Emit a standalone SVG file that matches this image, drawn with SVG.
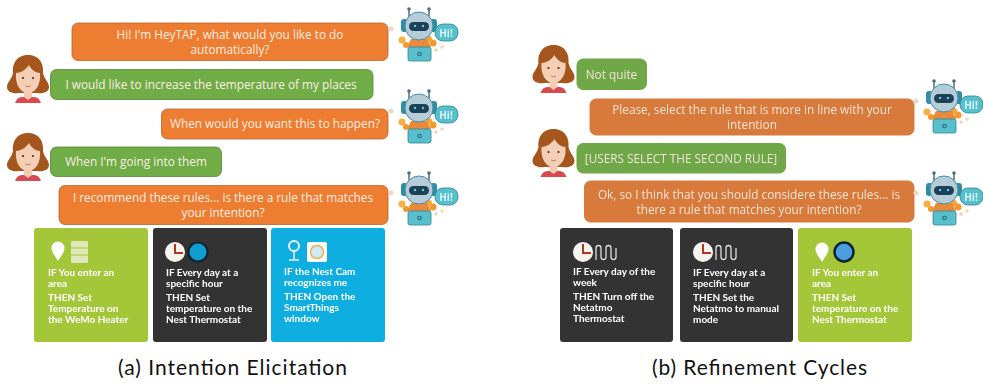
<svg xmlns="http://www.w3.org/2000/svg" width="983" height="385" viewBox="0 0 983 385">
<style>
text{font-family:"Open Sans","Noto Sans","Liberation Sans",sans-serif}
.o{fill:#ed7d31;stroke:#b9642a;stroke-width:.8}
.g{fill:#70ad47;stroke:#558636;stroke-width:.8}
.o2{fill:#d97a3c;stroke:#d97a3c}
.g2{fill:#70a84a;stroke:#70a84a}
.t{fill:#fbeee3;font-size:11.8px;text-anchor:middle}
.t2{fill:#f0e4d4;font-size:11.8px;text-anchor:middle}
.c{fill:#fff;font-size:10px;font-weight:700;font-family:"Lato","Open Sans",sans-serif}
.lime{fill:#a4c639}.dark{fill:#333}.blue{fill:#0eaee0}
.cap{fill:#111;font-size:21px;text-anchor:middle;font-family:"Lato","Noto Sans",sans-serif}
.soft{filter:url(#b)}
</style>
<defs>
<filter id="b" x="-10%" y="-10%" width="120%" height="120%"><feGaussianBlur stdDeviation=".5"/></filter>
<filter id="b2" x="-10%" y="-10%" width="120%" height="120%"><feGaussianBlur stdDeviation=".55"/></filter>
<g id="robot" filter="url(#b2)">
<circle cx="-28" cy="-2" r="2.500" fill="#ecd9c8"/>
<circle cx="17" cy="19" r="1.800" fill="#f2d5b0"/><circle cx="23" cy="16" r="1.800" fill="#f2d9b8"/>
<circle cx="-17" cy="9" r="3.500" fill="#f5b041"/><circle cx="-13" cy="14" r="3" fill="#f39a2e"/><circle cx="14" cy="12" r="3.500" fill="#f39a2e"/><circle cx="10" cy="8" r="3" fill="#f5a63a"/>
<path d="M-10-21V-14M10-21V-14" stroke="#4d6f80" stroke-width="1.500"/><circle cx="-10" cy="-22" r="1.800" fill="#4d6f80"/><circle cx="10" cy="-22" r="1.800" fill="#4d6f80"/>
<path d="M-8 8h16l4 8h-24z" fill="#e98a3a"/>
<rect x="-18" y="-12" width="7" height="13" rx="3" fill="#2f8ea6"/><rect x="11" y="-12" width="7" height="13" rx="3" fill="#2f8ea6"/>
<circle cx="0" cy="-5" r="14" fill="#b5cdd8" stroke="#4a8ba0"/>
<rect x="-10" y="-9" width="20" height="9" rx="4.500" fill="#1f3f55"/>
<circle cx="-4" cy="-5" r="1.200" fill="#5fd0e0"/><circle cx="4" cy="-5" r="1.200" fill="#5fd0e0"/>
<rect x="-11" y="16" width="23" height="14" rx="2" fill="#58c0cc" stroke="#2d8796" stroke-width=".8"/><circle cx="0.500" cy="23" r="1.800" fill="none" stroke="#245b68"/>
<rect x="16" y="-7" width="23" height="17" rx="8" fill="#58c0cc" stroke="#2d8796" stroke-width=".8"/>
<text x="27" y="5.500" text-anchor="middle" font-size="10" fill="#d9f5f5" font-weight="700">Hi!</text>
</g>
<g id="woman" filter="url(#b2)">
<path d="M-13 24q2-6 7-6h12q5 0 7 6z" fill="#d9484f"/>
<path d="M0-24C-12-24-16-14-15-6-16 0-21 3-21 8-21 13-15 15-9 14H9C15 15 21 13 21 8 21 3 16 0 15-6 16-14 12-24 0-24z" fill="#a4561b"/>
<path d="M-4 9h8v9l-4 3-4-3z" fill="#f3cbb0"/>
<path d="M-12-6c4 0 10-3 13-8 2 4 6 8 11 8 1 11-4 20-12 20s-13-9-12-20z" fill="#f4cfb6"/>
<circle cx="-5" cy="-1" r="1.100" fill="#4a2c14"/><circle cx="5" cy="-1" r="1.100" fill="#4a2c14"/>
<path d="M-2.500 7q2.500 1.500 5 0" stroke="#b06a50" fill="none" stroke-width=".8"/>
</g>
<g id="pin"><path d="M0 10C-3 5-6.500 1-6.500-3a6.500 6.500 0 0 1 13 0C6.500 1 3 5 0 10z" fill="#fff"/></g>
<g id="clock"><circle r="10" fill="#f7f3ee"/><path d="M-1-8h2v8h7v2h-9z" fill="#b5341f"/></g>
<g id="wave"><path d="M0 8V-4a2.500 2.500 0 0 1 5 0V5a2.500 2.500 0 0 0 5 0V-4a2.500 2.500 0 0 1 5 0V5a2.500 2.500 0 0 0 5 0V-4" fill="none" stroke="#ddd" stroke-width="1.300"/></g>
</defs>

<g id="connectors"/>

<g id="b1"><rect class="o" x="72" y="23" width="316" height="37.500" rx="6"/><text class="t" x="230" y="39">Hi! I'm HeyTAP, what would you like to do</text><text class="t" x="230" y="54">automatically?</text></g>
<g id="b2n"><rect class="g" x="50.500" y="69.500" width="322.500" height="30" rx="6"/><text class="t" x="211" y="89">I would like to increase the temperature of my places</text></g>
<g id="b3"><rect class="o" x="161.500" y="109" width="226.500" height="30" rx="6"/><text class="t" x="275" y="128">When would you want this to happen?</text></g>
<g id="b4"><rect class="g" x="50.500" y="147" width="171" height="29.500" rx="6"/><text class="t" x="136" y="166">When I'm going into them</text></g>
<g id="b5"><rect class="o" x="59" y="185.500" width="329" height="39" rx="6"/><text class="t" x="223" y="202">I recommend these rules... is there a rule that matches</text><text class="t" x="223" y="217">your intention?</text></g>

<g id="bot1"><use href="#robot" x="419" y="31"/></g>
<g id="bot2"><use href="#robot" x="419" y="113"/></g>
<g id="bot3"><use href="#robot" x="419" y="195"/></g>
<g id="user1"><use href="#woman" x="28" y="79"/></g>
<g id="user2"><use href="#woman" x="28" y="157"/></g>

<g id="card-a1"><rect class="lime" x="34" y="228" width="114" height="114" rx="3"/><use href="#pin" x="58" y="251"/><rect x="71" y="241" width="17" height="22" rx="1" fill="#dfe8b8"/><path d="M71 248h17M71 255h17" stroke="#a4c639"/>
<g class="soft"><text class="c" x="48" y="276">IF You enter an</text><text class="c" x="48" y="287">area</text><text class="c" x="48" y="301">THEN Set</text><text class="c" x="48" y="312">Temperature on</text><text class="c" x="48" y="323">the WeMo Heater</text></g></g>
<g id="card-a2"><rect class="dark" x="153" y="228" width="114" height="114" rx="3"/><use href="#clock" x="175" y="252"/><circle cx="198" cy="252" r="9.500" fill="#0e9fd0" stroke="#123" stroke-width="2"/>
<g class="soft"><text class="c" x="166" y="276">IF Every day at a</text><text class="c" x="166" y="287">specific hour</text><text class="c" x="166" y="301">THEN Set</text><text class="c" x="166" y="312">temperature on the</text><text class="c" x="166" y="323">Nest Thermostat</text></g></g>
<g id="card-a3"><rect class="blue" x="271" y="228" width="114" height="114" rx="3"/><circle cx="294" cy="246" r="5" fill="none" stroke="#eef" stroke-width="2"/><path d="M294 251v8M289 260h10" stroke="#eef" stroke-width="1.500"/><rect x="307" y="242" width="20" height="20" rx="2" fill="#fff"/><circle cx="317" cy="252" r="6.500" fill="#cfeaf5" stroke="#f0b050" stroke-width="1.500"/>
<g class="soft"><text class="c" x="284" y="275">IF the Nest Cam</text><text class="c" x="284" y="286">recognizes me</text><text class="c" x="284" y="300">THEN Open the</text><text class="c" x="284" y="311">SmartThings</text><text class="c" x="284" y="322">window</text></g></g>

<g class="soft">
<g id="r1"><rect class="g2" x="577" y="59" width="69.500" height="30.500" rx="6"/><text class="t2" x="611.500" y="79">Not quite</text></g>
<g id="r2"><rect class="o2" x="590" y="99" width="324" height="36" rx="6"/><text class="t2" x="752" y="114">Please, select the rule that is more in line with your</text><text class="t2" x="752" y="129">intention</text></g>
<g id="r3"><rect class="g2" x="577" y="143.500" width="208.500" height="29.500" rx="6"/><text class="t2" x="681" y="163">[USERS SELECT THE SECOND RULE]</text></g>
<g id="r4"><rect class="o2" x="584.500" y="181" width="329.500" height="41" rx="6"/><text class="t2" x="749" y="199">Ok, so I think that you should considere these rules... is</text><text class="t2" x="749" y="214">there a rule that matches your intention?</text></g>
</g>
<g id="bot4"><use href="#robot" x="944" y="103"/></g>
<g id="bot5"><use href="#robot" x="944" y="195"/></g>
<g id="user3"><use href="#woman" x="553.500" y="69"/></g>
<g id="user4"><use href="#woman" x="553.500" y="153"/></g>

<g id="card-b1"><rect class="dark" x="560" y="228" width="113" height="114" rx="3"/><use href="#clock" x="583" y="252"/><use href="#wave" x="596" y="252"/>
<g class="soft"><text class="c" x="573" y="275">IF Every day of the</text><text class="c" x="573" y="286">week</text><text class="c" x="573" y="300">THEN Turn off the</text><text class="c" x="573" y="311">Netatmo</text><text class="c" x="573" y="322">Thermostat</text></g></g>
<g id="card-b2"><rect class="dark" x="680" y="228" width="113" height="114" rx="3"/><use href="#clock" x="703" y="252"/><use href="#wave" x="716" y="252"/>
<g class="soft"><text class="c" x="693" y="276">IF Every day at a</text><text class="c" x="693" y="287">specific hour</text><text class="c" x="693" y="301">THEN Set the</text><text class="c" x="693" y="312">Netatmo to manual</text><text class="c" x="693" y="323">mode</text></g></g>
<g id="card-b3"><rect class="lime" x="798" y="228" width="114" height="114" rx="3"/><use href="#pin" x="822" y="252"/><circle cx="844" cy="252" r="9.500" fill="#4a9fe0" stroke="#123" stroke-width="2.500"/>
<g class="soft"><text class="c" x="812" y="276">IF You enter an</text><text class="c" x="812" y="287">area</text><text class="c" x="812" y="301">THEN Set</text><text class="c" x="812" y="312">temperature on the</text><text class="c" x="812" y="323">Nest Thermostat</text></g></g>

<text class="cap" x="232.500" y="375" textLength="229" lengthAdjust="spacing">(a) Intention Elicitation</text>
<text class="cap" x="759.500" y="375" textLength="215" lengthAdjust="spacing">(b) Refinement Cycles</text>
</svg>
